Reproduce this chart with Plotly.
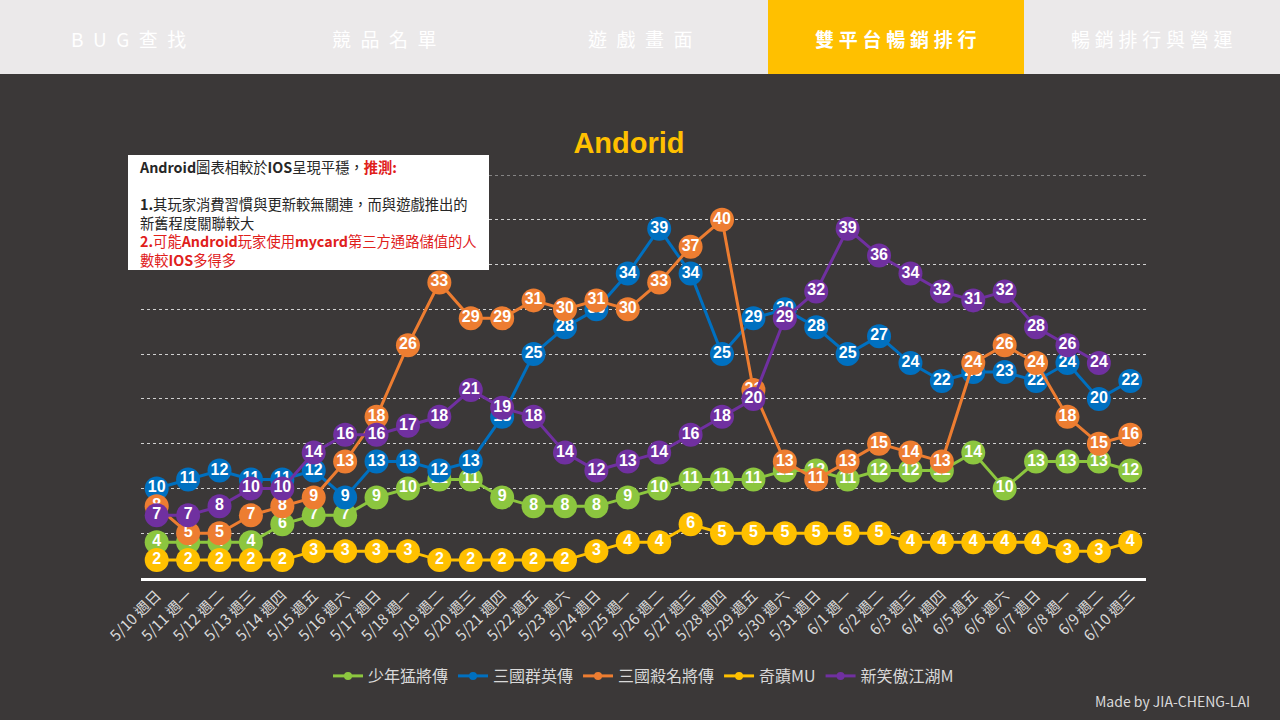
import plotly.graph_objects as go

# x categories
dates = ["5/10 週日", "5/11 週一", "5/12 週二", "5/13 週三", "5/14 週四", "5/15 週五", "5/16 週六",
         "5/17 週日", "5/18 週一", "5/19 週二", "5/20 週三", "5/21 週四", "5/22 週五", "5/23 週六",
         "5/24 週日", "5/25 週一", "5/26 週二", "5/27 週三", "5/28 週四", "5/29 週五", "5/30 週六",
         "5/31 週日", "6/1 週一", "6/2 週二", "6/3 週三", "6/4 週四", "6/5 週五", "6/6 週六",
         "6/7 週日", "6/8 週一", "6/9 週二", "6/10 週三"]

# series
shaonian = [4, 4, 4, 4, 6, 7, 7, 9, 10, 11, 11, 9, 8, 8, 8, 9, 10, 11, 11, 11, 12, 12,
            11, 12, 12, 12, 14, 10, 13, 13, 13, 12]
qunying = [10, 11, 12, 11, 11, 12, 9, 13, 13, 12, 13, 18, 25, 28, 30, 34, 39, 34, 25, 29, 30, 28,
           25, 27, 24, 22, 23, 23, 22, 24, 20, 22]
shaming = [8, 5, 5, 7, 8, 9, 13, 18, 26, 33, 29, 29, 31, 30, 31, 30, 33, 37, 40, 21, 13, 11,
           13, 15, 14, 13, 24, 26, 24, 18, 15, 16]
qiji = [2, 2, 2, 2, 2, 3, 3, 3, 3, 2, 2, 2, 2, 2, 3, 4, 4, 6, 5, 5, 5, 5,
        5, 5, 4, 4, 4, 4, 4, 3, 3, 4]
xiaoao = [7, 7, 8, 10, 10, 14, 16, 16, 17, 18, 21, 19, 18, 14, 12, 13, 14, 16, 18, 20, 29, 32,
          39, 36, 34, 32, 31, 32, 28, 26, 24, None]

series_names = ["少年猛將傳", "三國群英傳", "三國殺名將傳", "奇蹟MU", "新笑傲江湖M"]
series_values = [shaonian, qunying, shaming, qiji, xiaoao]
series_colors = ["#8CC63F", "#0070C0", "#ED7D31", "#FFC000", "#7030A0"]

tabs = ["B\u2002U\u2002G\u2002查\u2002找", "競\u2002品\u2002名\u2002單", "遊\u2002戲\u2002畫\u2002面",
        "雙\u2005平\u2005台\u2005暢\u2005銷\u2005排\u2005行", "暢\u2005銷\u2005排\u2005行\u2005與\u2005營\u2005運"]
active_tab = 3

W, H = 1280, 720
L, R, T, B = 141, 134, 175, 142
BG = "#3B3838"
Y_MAX = 45


def px(x):
    return (x - L) / (W - L - R)


def py(y):
    return (H - B - y) / (H - T - B)


fig = go.Figure()

for name, vals, col in zip(series_names, series_values, series_colors):
    fig.add_trace(go.Scatter(x=dates, y=vals, mode="lines+markers+text", name=name,
                             text=[str(v) if v is not None else "" for v in vals],
                             textposition="middle center",
                             textfont=dict(family="Liberation Sans, Arial", size=16, color="white",
                                           weight="bold"),
                             line=dict(color=col, width=3),
                             marker=dict(color=col, size=24),
                             showlegend=False, hoverinfo="x+y+name"))

# legend entries with small markers
for name, col in zip(series_names, series_colors):
    fig.add_trace(go.Scatter(x=[None], y=[None], mode="lines+markers", name=name,
                             line=dict(color=col, width=3), marker=dict(color=col, size=8)))

shapes = [
    # top gridline (plotly skips the one on the plot edge)
    dict(type="line", xref="paper", yref="y", x0=0, x1=1, y0=Y_MAX, y1=Y_MAX,
         line=dict(color="#D0D0D0", width=1, dash="dot"), layer="below"),
    dict(type="rect", xref="paper", yref="paper", x0=px(0), x1=px(W), y0=py(0), y1=py(74),
         fillcolor="#EBE9EA", line=dict(width=0), layer="above"),
    dict(type="rect", xref="paper", yref="paper", x0=px(768), x1=px(1024), y0=py(0), y1=py(74),
         fillcolor="#FFC000", line=dict(width=0), layer="above"),
    dict(type="rect", xref="paper", yref="paper", x0=px(128), x1=px(489), y0=py(155), y1=py(270),
         fillcolor="white", line=dict(width=0), layer="above"),
]

annotations = []
for i, t in enumerate(tabs):
    annotations.append(dict(xref="paper", yref="paper", x=px(128 + 256 * i), y=py(38),
                            text=t, showarrow=False, xanchor="center", yanchor="middle",
                            font=dict(family="Noto Sans CJK TC", size=19, color="white",
                                      weight="bold" if i == active_tab else "normal")))

red = "#E0201B"
note = ("<b>Android</b>圖表相較於<b>IOS</b>呈現平穩，<span style='color:%s'><b>推測:</b></span><br> <br>"
        "<b>1.</b>其玩家消費習慣與更新較無關連，而與遊戲推出的<br>新舊程度關聯較大<br>"
        "<span style='color:%s'><b>2.</b>可能<b>Android</b>玩家使用<b>mycard</b>第三方通路儲值的人</span><br>"
        "<span style='color:%s'>數較<b>IOS</b>多得多</span>") % (red, red, red)
annotations.append(dict(xref="paper", yref="paper", x=px(137), y=py(154), text=note,
                        showarrow=False, xanchor="left", yanchor="top", align="left",
                        font=dict(family="Noto Sans CJK TC", size=14.3, color="#262626")))

annotations.append(dict(xref="paper", yref="paper", x=px(1252), y=py(701),
                        text="Made by JIA-CHENG-LAI", showarrow=False, xanchor="right",
                        yanchor="middle", font=dict(family="Noto Sans CJK TC", size=14, color="#D9D9D9")))

fig.update_layout(
    width=W, height=H,
    paper_bgcolor=BG, plot_bgcolor=BG,
    margin=dict(l=L, r=R, t=T, b=B),
    title=dict(text="<b>Andorid</b>", x=629 / W, xanchor="center", y=1 - 143 / H, yanchor="middle",
               xref="container", yref="container",
               font=dict(family="Liberation Sans, Arial", size=29, color="#FFC000")),
    xaxis=dict(type="category", range=[-0.5, len(dates) - 0.5], showgrid=False,
               showline=True, linecolor="white", linewidth=2.5, ticks="", tickangle=-45,
               tickfont=dict(family="Noto Sans CJK TC", size=15, color="#D9D9D9"),
               automargin=False, fixedrange=True),
    yaxis=dict(range=[0, Y_MAX], dtick=5, showticklabels=False, showgrid=True,
               gridcolor="#D0D0D0", griddash="dot", gridwidth=1, zeroline=False,
               automargin=False, fixedrange=True),
    legend=dict(orientation="h", x=0.5, xanchor="center", y=py(676), yanchor="middle",
                font=dict(family="Noto Sans CJK TC", size=16, color="#D9D9D9"),
                bgcolor="rgba(0,0,0,0)", itemwidth=30),
    shapes=shapes,
    annotations=annotations,
)

fig.write_html("out.html", config={"displayModeBar": False},
               post_script="document.body.style.margin='0';")
